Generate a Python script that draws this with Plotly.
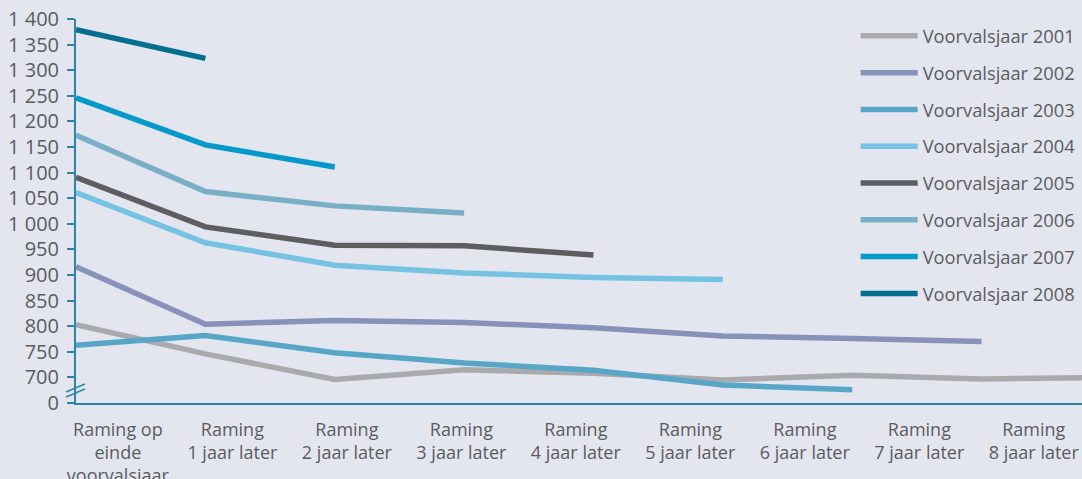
import plotly.graph_objects as go

stage_labels = ["Raming op<br>einde<br>voorvalsjaar", "Raming<br>1 jaar later", "Raming<br>2 jaar later",
                "Raming<br>3 jaar later", "Raming<br>4 jaar later", "Raming<br>5 jaar later",
                "Raming<br>6 jaar later", "Raming<br>7 jaar later", "Raming<br>8 jaar later"]

v2001 = [803, 746, 696, 715, 708, 695, 704, 697, 700]
v2002 = [916, 804, 811, 807, 797, 781, 776, 770]
v2003 = [763, 782, 748, 728, 714, 685, 676]
v2004 = [1061, 963, 919, 904, 895, 891]
v2005 = [1091, 994, 958, 957, 939]
v2006 = [1173, 1063, 1035, 1021]
v2007 = [1246, 1154, 1111]
v2008 = [1379, 1323]

series = [
    ("Voorvalsjaar 2001", v2001, "#a9aaae"),
    ("Voorvalsjaar 2002", v2002, "#8791b9"),
    ("Voorvalsjaar 2003", v2003, "#57a6c7"),
    ("Voorvalsjaar 2004", v2004, "#76c2e3"),
    ("Voorvalsjaar 2005", v2005, "#5e5e62"),
    ("Voorvalsjaar 2006", v2006, "#78afc7"),
    ("Voorvalsjaar 2007", v2007, "#0399cb"),
    ("Voorvalsjaar 2008", v2008, "#036f8f"),
]

y_ticks = [650] + list(range(700, 1401, 50))
y_ticktext = ["0"] + [f"{v:,}".replace(",", " ") for v in range(700, 1401, 50)]

text_color = "#5b5b5f"
axis_color = "#2d84ab"
bg = "#e3e6ef"

# category labels sit slightly offset from the data points in the original
label_offset = 0.3236
label_step = 0.885
label_pos = [label_offset + i * label_step for i in range(len(stage_labels))]

fig = go.Figure()
for name, vals, col in series:
    fig.add_trace(go.Scatter(
        x=list(range(len(vals))), y=vals, name=name, mode="lines",
        line=dict(color=col, width=5.5), legendgroup=name,
        hoverinfo="skip",
    ))

fig.update_layout(
    width=1082, height=479,
    margin=dict(l=76, r=0, t=19, b=76),
    paper_bgcolor=bg, plot_bgcolor=bg,
    font=dict(family="Open Sans", color=text_color, size=16),
    showlegend=True,
    legend=dict(x=0.775, y=1.004, xanchor="left", yanchor="top",
                bgcolor="rgba(0,0,0,0)", font=dict(size=18.3, color=text_color),
                tracegroupgap=10.0, itemwidth=57, maxheight=1.0),
    xaxis=dict(range=[0, 7.776], showgrid=False, zeroline=False,
               tickmode="array", tickvals=label_pos, ticktext=stage_labels,
               showline=True, linecolor=axis_color, linewidth=2, ticks="",
               tickfont=dict(size=18, color=text_color), ticklabelstandoff=9,
               automargin=False),
    yaxis=dict(range=[650, 1400], tickmode="array", tickvals=y_ticks,
               ticktext=y_ticktext, showgrid=False, zeroline=False,
               showline=True, linecolor=axis_color, linewidth=2,
               ticks="outside", ticklen=7, tickcolor=axis_color, tickwidth=2,
               tickfont=dict(size=20, color=text_color), ticklabelstandoff=4,
               automargin=False),
)

# axis break marks
for dy in (0, 5):
    fig.add_shape(type="line", xref="paper", yref="paper",
                  x0=-10/1006, x1=9/1006,
                  y0=(403 - (392 + dy)) / 384,
                  y1=(403 - (384 + dy)) / 384,
                  line=dict(color=axis_color, width=1.6))

fig.write_html("out.html")
